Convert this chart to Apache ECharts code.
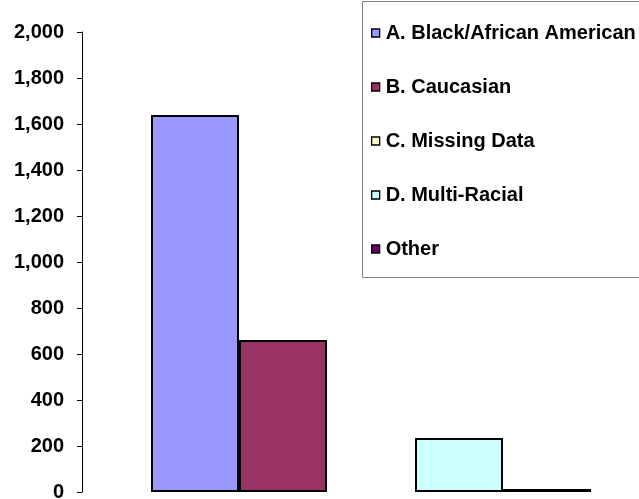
<!DOCTYPE html>
<html><head><meta charset="utf-8">
<script src="https://cdn.jsdelivr.net/npm/echarts@6/dist/echarts.min.js"></script>
<style>html,body{margin:0;padding:0;background:#fff}#c{width:639px;height:499px}</style>
</head><body><div id="c"></div>
<script>
const categories = [''];
const seriesNames = ['A. Black/African American', 'B. Caucasian', 'C. Missing Data', 'D. Multi-Racial', 'Other'];
const seriesValues = [[1639], [661], [0], [235], [13]];
const seriesColors = ['#9999FF', '#993366', '#FFFFCC', '#CCFFFF', '#660066'];
const yTicks = [0, 200, 400, 600, 800, 1000, 1200, 1400, 1600, 1800, 2000];

const chart = echarts.init(document.getElementById('c'));
chart.setOption({
  animation: false,
  backgroundColor: '#fff',
  grid: { left: 82, top: 32, width: 578, height: 460, outerBoundsMode: 'none', containLabel: false },
  graphic: [{ type: 'rect', shape: { x: 362.5, y: 1.5, width: 300, height: 276 },
    style: { fill: 'none', stroke: '#808080', lineWidth: 1 }, z: -1 }],
  legend: {
    orient: 'vertical', left: 371, top: 23, padding: 0,
    itemWidth: 8, itemHeight: 8, itemGap: 34,
    data: seriesNames.map(n => ({ name: n, icon: 'rect' })),
    itemStyle: { borderColor: '#000', borderWidth: 1.3 },
    textStyle: { fontFamily: 'Liberation Sans, Arial, sans-serif', fontWeight: 'bold', fontSize: 20, color: '#000', padding: [0, 0, 0, 1] }
  },
  xAxis: { type: 'category', data: categories, axisLine: { show: false }, axisTick: { show: false }, axisLabel: { show: false } },
  yAxis: {
    type: 'value', min: yTicks[0], max: yTicks[yTicks.length - 1], interval: 200,
    splitLine: { show: false },
    axisLine: { show: true, lineStyle: { color: '#000', width: 1 } },
    axisTick: { show: true, length: 5, lineStyle: { color: '#000' } },
    axisLabel: { margin: 18, color: '#000', fontFamily: 'Liberation Sans, Arial, sans-serif', fontWeight: 'bold', fontSize: 20,
      formatter: v => v.toLocaleString('en-US') }
  },
  series: seriesNames.map((n, i) => ({
    name: n, type: 'bar', data: seriesValues[i], barWidth: 88, barGap: '0%',
    itemStyle: { color: seriesColors[i], borderColor: '#000', borderWidth: seriesValues[i][0] === 0 ? 0 : 2 }
  }))
});
</script></body></html>
